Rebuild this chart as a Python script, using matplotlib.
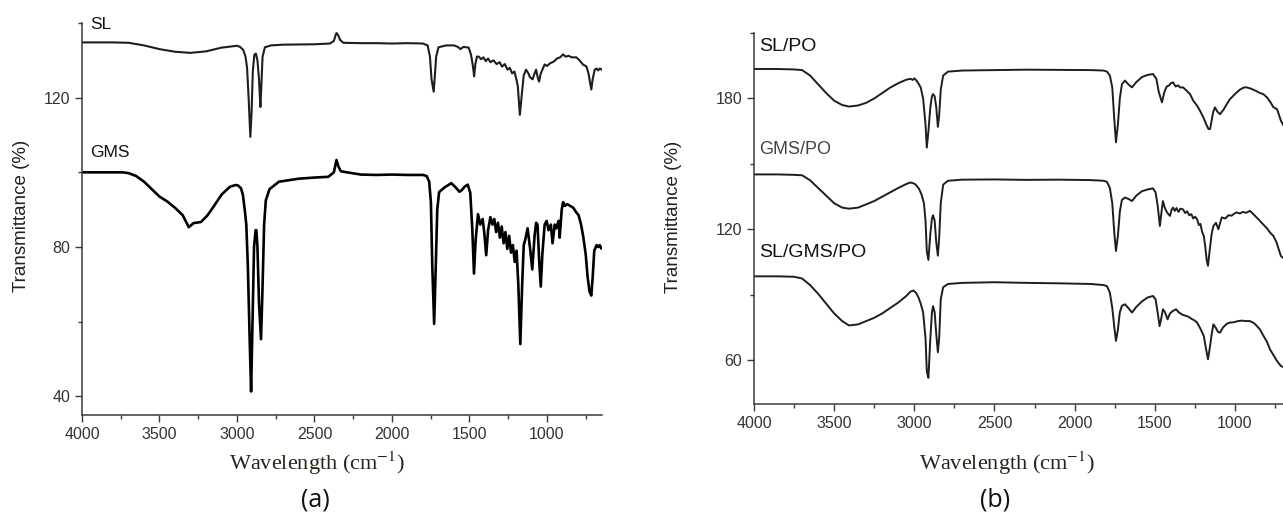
# FTIR spectra of SL, GMS and their palm oil (PO) blends
import numpy as np
import matplotlib.pyplot as plt
from matplotlib.ticker import MultipleLocator

# ---- panel (a): wavenumber (cm-1) / transmittance (%)
sl_wn = [4000, 3800, 3700, 3600, 3500, 3400, 3300, 3200, 3100, 3000,
         2980, 2960, 2945, 2935, 2925, 2914, 2906, 2898, 2888, 2878,
         2868, 2858, 2849, 2843, 2835, 2820, 2780, 2700, 2500, 2400,
         2375, 2365, 2358, 2348, 2335, 2315, 2200, 2100, 2000, 1900,
         1800, 1770, 1755, 1745, 1731, 1724, 1715, 1700, 1650, 1600,
         1575, 1558, 1540, 1505, 1490, 1478, 1470, 1462, 1452, 1440,
         1425, 1410, 1395, 1380, 1365, 1345, 1325, 1305, 1290, 1272,
         1255, 1240, 1225, 1210, 1195, 1188, 1175, 1162, 1150, 1135,
         1120, 1110, 1093, 1080, 1070, 1060, 1051, 1040, 1015, 1000,
         980, 955, 935, 915, 896, 880, 860, 840, 810, 790,
         766, 746, 732, 724, 714, 705, 692, 680, 670, 660,
         645]
sl_t = [134.8, 134.8, 134.7, 134.0, 133.0, 132.3, 132.0, 132.4, 133.4, 133.9,
        133.6, 132.8, 131.0, 128.0, 120.0, 109.5, 116.0, 127.0, 131.5, 131.8,
        130.0, 125.0, 117.5, 123.0, 131.0, 133.5, 134.0, 134.2, 134.3, 134.5,
        135.2, 136.6, 137.3, 136.8, 135.5, 134.7, 134.6, 134.6, 134.5, 134.6,
        134.5, 134.0, 131.0, 125.0, 121.6, 125.5, 131.0, 133.5, 134.0, 134.0,
        133.6, 133.0, 133.6, 133.4, 131.5, 128.5, 125.7, 129.0, 131.0, 131.0,
        130.3, 130.8, 129.8, 130.5, 129.5, 130.0, 129.0, 129.5, 128.3, 129.0,
        127.5, 128.0, 126.5, 127.0, 124.5, 123.0, 115.4, 121.0, 126.0, 127.5,
        126.5, 125.5, 124.9, 126.5, 127.5, 125.5, 124.3, 126.5, 128.9, 128.5,
        129.2, 129.7, 130.5, 130.8, 131.6, 131.0, 131.2, 130.8, 130.8, 130.0,
        128.8, 128.4, 126.5, 124.5, 122.2, 125.0, 127.5, 127.8, 127.3, 127.8,
        127.5]

gms_wn = [4000, 3850, 3740, 3700, 3650, 3600, 3550, 3500, 3450, 3400,
          3350, 3311, 3280, 3232, 3190, 3153, 3100, 3047, 3010, 2994,
          2975, 2962, 2950, 2940, 2930, 2918, 2909, 2900, 2890, 2880,
          2875, 2868, 2858, 2845, 2836, 2825, 2814, 2790, 2729, 2600,
          2500, 2411, 2375, 2365, 2358, 2345, 2330, 2305, 2200, 2100,
          2000, 1900, 1800, 1776, 1760, 1749, 1740, 1728, 1718, 1708,
          1696, 1660, 1617, 1590, 1565, 1551, 1530, 1511, 1495, 1482,
          1471, 1460, 1445, 1430, 1415, 1405, 1392, 1380, 1365, 1352,
          1340, 1328, 1316, 1304, 1292, 1280, 1268, 1256, 1244, 1232,
          1220, 1208, 1196, 1185, 1172, 1160, 1150, 1140, 1125, 1110,
          1095, 1080, 1070, 1061, 1050, 1040, 1030, 1015, 1002, 990,
          975, 964, 950, 940, 925, 918, 905, 896, 885, 870,
          850, 830, 815, 796, 780, 765, 750, 738, 725, 714,
          705, 695, 680, 670, 660, 650, 645]
gms_t = [100.0, 100.0, 100.0, 99.8, 99.0, 97.5, 95.5, 93.5, 92.2, 90.5,
         88.5, 85.3, 86.4, 86.7, 88.5, 90.7, 94.0, 96.1, 96.6, 96.5,
         95.8, 94.0, 90.0, 86.0, 75.0, 55.0, 41.3, 60.0, 80.0, 84.5,
         84.5, 80.0, 65.0, 55.3, 68.0, 86.0, 92.5, 95.5, 97.5, 98.3,
         98.6, 98.8, 100.0, 102.0, 103.3, 101.5, 100.3, 100.1, 99.4, 99.3,
         99.4, 99.3, 99.3, 99.0, 97.5, 92.0, 75.0, 59.4, 74.0, 90.0,
         94.7, 96.0, 97.1, 96.0, 94.8, 95.2, 96.2, 96.7, 94.5, 85.0,
         72.9, 82.0, 88.8, 86.0, 87.5, 84.0, 77.8, 84.5, 88.0, 86.0,
         87.5, 84.0, 86.5, 82.5, 85.5, 81.0, 84.0, 79.5, 83.0, 78.5,
         80.5, 76.0, 79.0, 70.0, 54.0, 70.0, 80.5, 82.0, 85.0, 80.0,
         74.0, 83.0, 86.5, 86.0, 76.0, 69.4, 78.0, 86.0, 87.0, 84.5,
         86.0, 81.0, 86.0, 85.0, 87.0, 82.5, 90.0, 92.0, 91.0, 91.5,
         91.0, 90.5, 89.5, 88.5, 86.0, 82.5, 78.0, 72.0, 68.0, 67.0,
         72.0, 79.0, 80.5, 80.0, 80.5, 79.6, 79.8]

# ---- panel (b)
slpo_wn = [4000, 3850, 3750, 3700, 3650, 3600, 3550, 3500, 3450, 3407,
           3350, 3300, 3250, 3200, 3150, 3100, 3050, 3024, 3010, 3000,
           2990, 2975, 2960, 2945, 2930, 2922, 2912, 2900, 2890, 2883,
           2873, 2863, 2853, 2845, 2835, 2820, 2790, 2700, 2500, 2300,
           2100, 1900, 1820, 1798, 1780, 1765, 1752, 1742, 1730, 1718,
           1705, 1686, 1665, 1642, 1615, 1580, 1545, 1511, 1490, 1475,
           1455, 1440, 1425, 1410, 1400, 1386, 1370, 1355, 1340, 1324,
           1300, 1280, 1260, 1236, 1215, 1195, 1178, 1165, 1155, 1145,
           1135, 1124, 1110, 1093, 1070, 1050, 1031, 1000, 970, 945,
           927, 900, 870, 844, 823, 800, 780, 760, 737, 725,
           713, 700]
slpo_t = [193.5, 193.5, 193.3, 193.0, 190.5, 186.5, 182.5, 179.0, 177.0, 176.3,
          176.8, 178.0, 180.0, 182.5, 185.0, 187.0, 188.6, 189.0, 188.5, 189.2,
          188.5, 187.0, 185.0, 180.0, 168.0, 157.5, 165.0, 176.0, 181.0, 182.0,
          181.0, 176.0, 167.0, 172.0, 184.0, 190.5, 192.3, 192.8, 193.0, 193.2,
          193.1, 193.0, 192.8, 192.3, 190.5, 185.0, 170.0, 159.9, 168.0, 180.0,
          186.5, 188.2, 186.5, 185.1, 187.5, 189.8, 190.8, 191.2, 189.0, 183.0,
          178.2, 183.0, 185.5, 186.0, 187.0, 187.4, 185.5, 186.0, 185.0, 185.1,
          183.5, 182.0, 179.0, 176.7, 174.0, 171.0, 168.0, 166.0, 166.0, 170.0,
          174.0, 175.9, 174.0, 172.8, 175.0, 177.5, 179.7, 182.0, 184.0, 185.0,
          185.1, 184.5, 183.5, 182.5, 182.0, 180.5, 178.5, 176.0, 175.1, 172.5,
          169.8, 168.0]

gmspo_wn = [4000, 3850, 3750, 3700, 3650, 3600, 3550, 3500, 3450, 3407,
            3350, 3300, 3250, 3200, 3150, 3100, 3050, 3024, 3000, 2985,
            2970, 2955, 2940, 2930, 2922, 2912, 2900, 2890, 2883, 2873,
            2863, 2853, 2845, 2835, 2820, 2790, 2700, 2500, 2300, 2100,
            1900, 1820, 1798, 1780, 1765, 1752, 1742, 1730, 1718, 1705,
            1686, 1665, 1642, 1615, 1580, 1545, 1511, 1495, 1482, 1468,
            1458, 1449, 1438, 1425, 1415, 1405, 1395, 1386, 1375, 1364,
            1352, 1340, 1324, 1310, 1298, 1285, 1272, 1260, 1248, 1236,
            1225, 1215, 1205, 1194, 1185, 1176, 1168, 1158, 1145, 1134,
            1118, 1103, 1090, 1082, 1060, 1040, 1020, 1005, 989, 970,
            950, 930, 906, 885, 865, 844, 820, 800, 780, 760,
            740, 725, 713, 700]
gmspo_t = [145.2, 145.2, 145.0, 144.8, 142.5, 139.0, 135.5, 132.0, 130.0, 129.5,
           130.0, 131.5, 133.0, 135.0, 137.0, 139.0, 140.8, 141.5, 141.0, 140.0,
           138.5, 136.0, 132.0, 124.0, 110.0, 106.0, 118.0, 125.0, 126.5, 124.0,
           114.0, 108.0, 116.0, 132.0, 140.5, 142.3, 142.8, 142.9, 142.7, 142.8,
           142.6, 142.3, 141.8, 139.0, 132.0, 118.0, 110.1, 117.0, 128.0, 133.5,
           134.6, 134.0, 133.0, 135.5, 137.5, 138.3, 138.8, 137.0, 131.0, 121.6,
           128.0, 133.0, 130.0, 128.0, 127.0, 126.2, 129.0, 130.0, 128.5, 129.8,
           128.0, 129.5, 129.2, 127.5, 128.3, 126.5, 127.0, 125.0, 125.8, 124.7,
           122.0, 122.5, 119.0, 117.0, 112.0, 106.0, 103.3, 110.0, 118.0, 121.6,
           123.0, 120.1, 123.5, 125.5, 125.0, 126.5, 126.3, 127.2, 127.8, 127.3,
           128.0, 127.6, 128.5, 127.0, 125.5, 123.9, 122.0, 120.5, 118.5, 117.0,
           114.0, 110.5, 107.8, 107.0]

mix_wn = [4000, 3850, 3750, 3700, 3650, 3600, 3550, 3500, 3450, 3407,
          3350, 3300, 3250, 3200, 3150, 3100, 3050, 3024, 3005, 2990,
          2975, 2960, 2945, 2930, 2922, 2912, 2900, 2890, 2883, 2873,
          2863, 2853, 2845, 2835, 2820, 2790, 2700, 2500, 2300, 2100,
          1900, 1820, 1798, 1780, 1765, 1752, 1742, 1730, 1718, 1705,
          1686, 1665, 1642, 1615, 1580, 1545, 1511, 1495, 1482, 1470,
          1460, 1449, 1436, 1420, 1405, 1390, 1367, 1350, 1330, 1310,
          1290, 1270, 1250, 1236, 1215, 1194, 1182, 1168, 1156, 1145,
          1134, 1120, 1105, 1093, 1075, 1050, 1031, 1005, 980, 955,
          930, 906, 880, 860, 844, 820, 800, 781, 760, 740,
          725, 713, 700]
mix_t = [98.5, 98.5, 98.3, 97.5, 94.5, 90.5, 86.0, 81.5, 78.0, 76.0,
         76.5, 78.0, 79.5, 81.5, 84.0, 86.5, 89.5, 91.5, 92.0, 91.0,
         89.0, 86.0, 82.0, 70.0, 55.0, 52.0, 70.0, 82.0, 84.8, 82.0,
         72.0, 63.7, 70.0, 88.0, 93.5, 95.0, 95.5, 95.8, 95.5, 95.3,
         95.0, 94.5, 94.0, 91.0, 84.0, 75.0, 68.9, 74.0, 82.0, 85.0,
         85.7, 84.0, 81.9, 84.5, 87.0, 88.8, 89.5, 88.0, 82.0, 75.7,
         79.0, 83.4, 82.0, 78.8, 81.5, 82.5, 83.4, 82.0, 81.0, 80.5,
         80.0, 79.0, 78.2, 77.3, 74.5, 71.1, 66.0, 60.5, 66.0, 72.0,
         76.5, 75.0, 73.0, 72.7, 75.0, 76.8, 77.3, 77.5, 78.0, 78.2,
         78.0, 78.0, 77.0, 75.5, 74.2, 71.0, 68.5, 65.0, 62.5, 60.0,
         58.5, 57.4, 57.0]

line_c = "#1e1e1e"
axis_c = "#3a3a3a"

plt.rcParams["mathtext.fontset"] = "stix"

fig = plt.figure(figsize=(12.83, 5.21), dpi=100)
ax_a = fig.add_axes([82 / 1283, 1 - 415 / 521, (602 - 82) / 1283, (415 - 23) / 521])
ax_b = fig.add_axes([754 / 1283, 1 - 404 / 521, (1283 - 754) / 1283, (404 - 33) / 521])

ax_a.plot(sl_wn, sl_t, color=line_c, lw=1.5)
ax_a.plot(gms_wn, gms_t, color="black", lw=1.9)
ax_a.set_xlim(4000, 645)
ax_a.set_ylim(35, 140)
ax_a.yaxis.set_major_locator(MultipleLocator(40))
ax_a.yaxis.set_minor_locator(MultipleLocator(20))

ax_b.plot(slpo_wn, slpo_t, color=line_c, lw=1.4)
ax_b.plot(gmspo_wn, gmspo_t, color=line_c, lw=1.4)
ax_b.plot(mix_wn, mix_t, color=line_c, lw=1.4)
ax_b.set_xlim(4000, 700)
ax_b.set_ylim(40, 210)
ax_b.yaxis.set_major_locator(MultipleLocator(60))
ax_b.yaxis.set_minor_locator(MultipleLocator(30))

for ax in (ax_a, ax_b):
    ax.spines["top"].set_visible(False)
    ax.spines["right"].set_visible(False)
    for s in ("left", "bottom"):
        ax.spines[s].set_color(axis_c)
        ax.spines[s].set_linewidth(1.1)
    ax.xaxis.set_major_locator(MultipleLocator(500))
    ax.xaxis.set_minor_locator(MultipleLocator(250))
    ax.tick_params(which="major", length=5, width=1.0, color=axis_c,
                   labelsize=11.5, labelcolor="#333333")
    ax.tick_params(which="minor", length=3, width=1.0, color=axis_c)
    for lab in ax.get_xticklabels() + ax.get_yticklabels():
        lab.set_fontfamily("Liberation Sans")

# curve labels
ax_a.text(3950, 139.6, "SL", fontsize=12.5, family="Liberation Sans", va="center", color="#111111")
ax_a.text(3950, 105.2, "GMS", fontsize=12.5, family="Liberation Sans", va="center", color="#111111")
ax_b.text(3970, 203.8, "SL/PO", fontsize=14, family="Liberation Sans", va="center", color="#111111")
ax_b.text(3970, 156.6, "GMS/PO", fontsize=13, family="Liberation Sans", va="center", color="#444444")
ax_b.text(3970, 109.4, "SL/GMS/PO", fontsize=14, family="Liberation Sans", va="center", color="#111111")

# axis titles
for xc in (317 / 1283, 1007 / 1283):
    fig.text(xc, 1 - 463 / 521, "Wavelength (cm$^{-1}$)", ha="center", va="center",
             fontsize=16, family="Liberation Serif", color="#2a2418")
fig.text(22 / 1283, 1 - 216 / 521, "Transmittance (%)", rotation=90, ha="center",
         va="center", fontsize=13.5, family="Liberation Sans", color="#222222")
fig.text(673 / 1283, 1 - 217 / 521, "Transmittance (%)", rotation=90, ha="center",
         va="center", fontsize=13.5, family="Liberation Sans", color="#222222")

fig.text(315 / 1283, 1 - 500 / 521, "(a)", ha="center", va="center", fontsize=18,
         family="Open Sans", color="#111111")
fig.text(995 / 1283, 1 - 500 / 521, "(b)", ha="center", va="center", fontsize=18,
         family="Open Sans", color="#111111")

fig.savefig("out.png", dpi=100)
